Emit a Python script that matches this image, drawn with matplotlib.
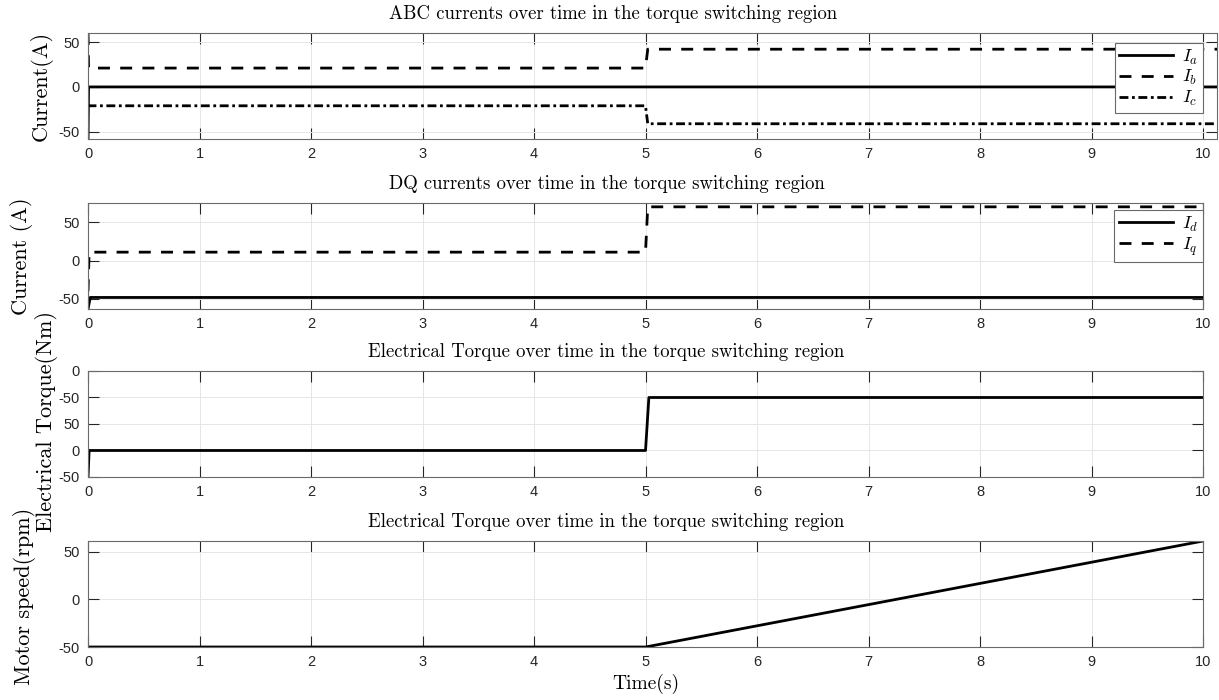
import matplotlib
matplotlib.use('Agg')
import matplotlib.pyplot as plt

# ABC currents
t_ia = [0, 0.005, 10.13]
ia = [-58, 0, 0]
t_ibc = [0, 0.005, 5.0, 5.02, 10.13]
ib = [60, 21, 21, 42, 42]
ic = [-20, -21, -21, -41, -41]

# DQ currents
t_id = [0, 0.02, 10]
i_d = [-63, -48, -48]
t_iq = [0, 0.01, 5.0, 5.02, 10]
i_q = [-40, 11, 11, 70, 70]

# torque (axis labels in the original repeat after 50)
t_te = [0, 0.01, 5.0, 5.03, 10]
te = [-50, 0, 0, 100, 100]
te_ticks = [-50, 0, 50, 100, 150]
te_ticklabels = ['-50', '0', '50', '-50', '0']

# motor speed
t_w = [0, 5, 10]
w = [-50, -50, 61]

titles = ['ABC currents over time in the torque switching region',
          'DQ currents over time in the torque switching region',
          'Electrical Torque over time in the torque switching region',
          'Electrical Torque over time in the torque switching region']
ylabels = ['Current(A)', 'Current (A)', 'Electrical Torque(Nm)', 'Motor speed(rpm)']
ylabel_x = [-0.032, -0.049, -0.027, -0.047]
ylabel_y = [0.5, 0.5, 0.52, 0.48]

plt.rcParams['font.family'] = 'Liberation Sans'
plt.rcParams['mathtext.fontset'] = 'cm'
plt.rcParams['axes.unicode_minus'] = False

serif = 'cmr10'
dash = (0, (4.3, 3.7))
dashdot = (0, (3.2, 1.3, 1.0, 1.3))
lw = 2.0

fig = plt.figure(figsize=(12.19, 7.0), dpi=100)
left, width, height = 0.0722, 0.9147, 0.1514
bottoms = [0.8014, 0.5586, 0.3186, 0.0757]
axes = []
for i, b in enumerate(bottoms):
    # the top panel runs a little past t=10 in the original
    wdt = 0.9262 if i == 0 else width
    axes.append(fig.add_axes([left, b, wdt, height]))

ax = axes[0]
ax.plot(t_ia, ia, color='k', lw=lw, label='$I_a$')
ax.plot(t_ibc, ib, color='k', lw=lw, linestyle=dash, label='$I_b$')
ax.plot(t_ibc, ic, color='k', lw=lw, linestyle=dashdot, label='$I_c$')
ax.set_ylim(-58, 60)
ax.set_yticks([-50, 0, 50])
ax.set_xlim(0, 10.126)

ax = axes[1]
ax.plot(t_id, i_d, color='k', lw=lw, label='$I_d$')
ax.plot(t_iq, i_q, color='k', lw=lw, linestyle=dash, label='$I_q$')
ax.set_ylim(-63, 75)
ax.set_yticks([-50, 0, 50])

ax = axes[2]
ax.plot(t_te, te, color='k', lw=lw)
ax.set_ylim(-50, 150)
ax.set_yticks(te_ticks)
ax.set_yticklabels(te_ticklabels)

ax = axes[3]
ax.plot(t_w, w, color='k', lw=lw)
ax.set_ylim(-50, 61)
ax.set_yticks([-50, 0, 50])
ax.set_xlabel('Time(s)', fontfamily=serif, fontsize=14, labelpad=3)

for i, ax in enumerate(axes):
    if i > 0:
        ax.set_xlim(0, 10)
    ax.set_xticks(range(0, 11))
    ax.grid(True, color='#e6e6e6', lw=0.7)
    ax.set_axisbelow(True)
    ax.tick_params(direction='in', length=8, width=0.8, top=True, right=True,
                   labelsize=10.5, colors='#262626', pad=6)
    for s in ax.spines.values():
        s.set_color('#6a6a6a')
        s.set_linewidth(0.8)
    ax.set_title(titles[i], fontfamily=serif, fontsize=13.5, pad=10, x=0.465)
    ax.set_ylabel(ylabels[i], fontfamily=serif, fontsize=16)
    ax.yaxis.set_label_coords(ylabel_x[i] * 0.9147 / ax.get_position().width, ylabel_y[i])

leg_anchor = [(0.9876, 0.9057), (1.0, 0.934)]
for ax, anc in zip(axes[:2], leg_anchor):
    leg = ax.legend(loc='upper right', bbox_to_anchor=anc, borderaxespad=0,
                    fontsize=13, frameon=True, fancybox=False, framealpha=1,
                    edgecolor='#6a6a6a', handlelength=3.0, borderpad=0.25,
                    labelspacing=0.1, handletextpad=0.5)
    leg.get_frame().set_linewidth(0.8)

fig.savefig('out.png', dpi=100)
